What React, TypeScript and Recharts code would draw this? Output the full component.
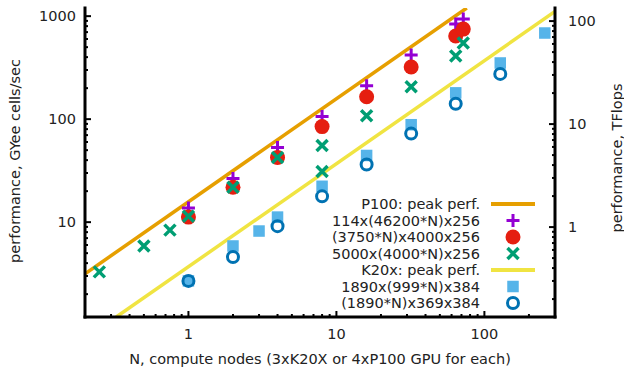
import React from 'react';
import { ComposedChart, Line, Scatter, XAxis, YAxis, Legend } from 'recharts';

// N values (compute nodes) and measured performance, GYee cells/sec
const p100PeakN = [0.2, 76];
const p100PeakV = [3.15, 1200];
const k20xPeakN = [0.325, 300];
const k20xPeakV = [1.2, 1110];

const purpleN = [1, 2, 4, 8, 16, 32, 64, 72];
const purpleV = [13.7, 26.6, 53, 106, 211, 420, 837, 936];
const redN = [1, 2, 4, 8, 16, 32, 64, 72];
const redV = [11.2, 21.8, 42.4, 84.7, 165, 321, 641, 749];
const greenN = [0.25, 0.5, 0.75, 1, 2, 4, 8, 8, 16, 32, 64, 72];
const greenV = [3.29, 5.86, 8.37, 11.4, 21.8, 42.4, 55.5, 31.1, 108, 206, 411, 548];
const skyN = [1, 2, 3, 4, 8, 16, 32, 64, 128, 256];
const skyV = [2.69, 5.87, 8.2, 11.2, 22.3, 44.4, 88.3, 180, 351, 686];
const blueN = [1, 2, 4, 8, 16, 32, 64, 128];
const blueV = [2.69, 4.59, 9.15, 17.8, 36.3, 72.4, 141, 275];

const xTicks = [0.2, 0.3, 0.4, 0.5, 0.6, 0.7, 0.8, 0.9, 1, 2, 3, 4, 5, 6, 7, 8, 9, 10, 20, 30, 40, 50, 60, 70, 80, 90, 100, 200, 300];
const xLabels = [1, 10, 100];
const yTicks = [2, 3, 4, 5, 6, 7, 8, 9, 10, 20, 30, 40, 50, 60, 70, 80, 90, 100, 200, 300, 400, 500, 600, 700, 800, 900, 1000];
const yLabels = [10, 100, 1000];
const tfTicks = [0.2, 0.3, 0.4, 0.5, 0.6, 0.7, 0.8, 0.9, 1, 2, 3, 4, 5, 6, 7, 8, 9, 10, 20, 30, 40, 50, 60, 70, 80, 90, 100];
const tfLabels = [1, 10, 100];

const names = [
  'P100: peak perf.',
  '114x(46200*N)x256',
  '(3750*N)x4000x256',
  '5000x(4000*N)x256',
  'K20x: peak perf.',
  '1890x(999*N)x384',
  '(1890*N)x369x384',
];

const toPoints = (n: number[], v: number[]) => n.map((x, i) => ({ n: x, v: v[i] }));

const FONT = 'DejaVu Sans, sans-serif';
const FS = 14.5;
const C = {
  orange: '#e69f00',
  purple: '#9400d3',
  red: '#e51e10',
  green: '#009e73',
  yellow: '#f0e442',
  sky: '#56b4e9',
  blue: '#0072b2',
};

const Plus = ({ cx, cy }: any) => (
  <path d={`M${cx - 6.5},${cy}H${cx + 6.5}M${cx},${cy - 6.5}V${cy + 6.5}`} stroke={C.purple} strokeWidth={3} />
);
const Dot = ({ cx, cy }: any) => <circle cx={cx} cy={cy} r={7.5} fill={C.red} />;
const Cross = ({ cx, cy }: any) => (
  <path d={`M${cx - 5.5},${cy - 5.5}L${cx + 5.5},${cy + 5.5}M${cx - 5.5},${cy + 5.5}L${cx + 5.5},${cy - 5.5}`} stroke={C.green} strokeWidth={3.5} />
);
const Box = ({ cx, cy }: any) => (
  <rect x={cx - 4.5} y={cy - 4.5} width={9} height={9} fill={C.sky} stroke={C.sky} strokeWidth={2.5} />
);
const Ring = ({ cx, cy }: any) => <circle cx={cx} cy={cy} r={5.5} fill="none" stroke={C.blue} strokeWidth={3} />;

const XTick = ({ x, y, payload, top }: any) => {
  const major = xLabels.includes(payload.value);
  const len = major ? 6 : 3;
  return (
    <g>
      <line x1={x} x2={x} y1={y} y2={top ? y + len : y - len} stroke="#000" strokeWidth={2} />
      {!top && major && (
        <text x={x} y={y + 22} textAnchor="middle" fontSize={FS} fontFamily={FONT} fill="#222">
          {payload.value}
        </text>
      )}
    </g>
  );
};

const YTick = ({ x, y, payload, right }: any) => {
  const labels = right ? tfLabels : yLabels;
  const major = labels.includes(payload.value);
  const len = major ? 6 : 3;
  return (
    <g>
      <line x1={x} x2={right ? x - len : x + len} y1={y} y2={y} stroke="#000" strokeWidth={2} />
      {major && (
        <text x={right ? x + 13 : x - 9} y={y + 5} textAnchor={right ? 'start' : 'end'} fontSize={FS} fontFamily={FONT} fill="#222">
          {payload.value}
        </text>
      )}
    </g>
  );
};

const LegendBox = () => {
  const rowY = (i: number) => 12 + i * 16.5;
  const sx = 233;
  const symbols = [
    <line key="l0" x1={211} x2={255} y1={rowY(0)} y2={rowY(0)} stroke={C.orange} strokeWidth={4} />,
    <Plus key="s1" cx={sx} cy={rowY(1)} />,
    <Dot key="s2" cx={sx} cy={rowY(2)} />,
    <Cross key="s3" cx={sx} cy={rowY(3)} />,
    <line key="l4" x1={211} x2={255} y1={rowY(4)} y2={rowY(4)} stroke={C.yellow} strokeWidth={4} />,
    <Box key="s5" cx={sx} cy={rowY(5)} />,
    <Ring key="s6" cx={sx} cy={rowY(6)} />,
  ];
  return (
    <svg width={270} height={125} style={{ display: 'block' }}>
      {names.map((name, i) => (
        <text key={name} x={200} y={rowY(i) + 5} textAnchor="end" fontSize={FS} fontFamily={FONT} fill="#222">
          {name}
        </text>
      ))}
      {symbols}
    </svg>
  );
};

export default function App() {
  const axisLine = { stroke: '#000', strokeWidth: 3, strokeLinecap: 'square' as const };
  return (
    <div style={{ position: 'absolute', left: 0, top: 0, width: 624, height: 367, background: '#fff' }}>
      <ComposedChart width={624} height={367} margin={{ top: 8, right: 9, bottom: 20, left: 25 }}>
        <XAxis
          dataKey="n"
          type="number"
          scale="log"
          domain={[0.2, 300]}
          allowDataOverflow
          ticks={xTicks}
          interval={0}
          tickSize={0}
          tickMargin={0}
          tickLine={false}
          axisLine={axisLine}
          tick={<XTick />}
          height={30}
        />
        <XAxis
          xAxisId="top"
          orientation="top"
          dataKey="n"
          type="number"
          scale="log"
          domain={[0.2, 300]}
          allowDataOverflow
          ticks={xTicks}
          interval={0}
          tickSize={0}
          tickMargin={0}
          tickLine={false}
          axisLine={axisLine}
          tick={<XTick top />}
          height={0}
        />
        <YAxis
          yAxisId="left"
          dataKey="v"
          type="number"
          scale="log"
          domain={[1.2, 1200]}
          allowDataOverflow
          ticks={yTicks}
          interval={0}
          tickSize={0}
          tickMargin={0}
          tickLine={false}
          axisLine={axisLine}
          tick={<YTick />}
          width={60}
        />
        <YAxis
          yAxisId="right"
          orientation="right"
          type="number"
          scale="log"
          domain={[0.134, 134]}
          allowDataOverflow
          ticks={tfTicks}
          interval={0}
          tickSize={0}
          tickMargin={0}
          tickLine={false}
          axisLine={axisLine}
          tick={<YTick right />}
          width={60}
        />
        <Line
          yAxisId="left"
          data={toPoints(p100PeakN, p100PeakV)}
          dataKey="v"
          stroke={C.orange}
          strokeWidth={3.5}
          dot={false}
          isAnimationActive={false}
        />
        <Scatter yAxisId="left" data={toPoints(purpleN, purpleV)} dataKey="v" shape={<Plus />} isAnimationActive={false} />
        <Scatter yAxisId="left" data={toPoints(redN, redV)} dataKey="v" shape={<Dot />} isAnimationActive={false} />
        <Scatter yAxisId="left" data={toPoints(greenN, greenV)} dataKey="v" shape={<Cross />} isAnimationActive={false} />
        <Line
          yAxisId="left"
          data={toPoints(k20xPeakN, k20xPeakV)}
          dataKey="v"
          stroke={C.yellow}
          strokeWidth={3.5}
          dot={false}
          isAnimationActive={false}
        />
        <Scatter yAxisId="left" data={toPoints(skyN, skyV)} dataKey="v" shape={<Box />} isAnimationActive={false} />
        <Scatter yAxisId="left" data={toPoints(blueN, blueV)} dataKey="v" shape={<Ring />} isAnimationActive={false} />
        <Legend
          layout="vertical"
          align="center"
          verticalAlign="middle"
          content={<LegendBox />}
          wrapperStyle={{ left: 280, top: 192, width: 270, height: 125, transform: 'none' }}
        />
        <text x={15} y={161} transform="rotate(-90 15 161)" textAnchor="middle" dominantBaseline="central" fontSize={FS} fontFamily={FONT} fill="#222">
          performance, GYee cells/sec
        </text>
        <text x={617} y={158} transform="rotate(-90 617 158)" textAnchor="middle" dominantBaseline="central" fontSize={FS} fontFamily={FONT} fill="#222">
          performance, TFlops
        </text>
        <text x={320} y={364} textAnchor="middle" fontSize={FS} fontFamily={FONT} fill="#222">
          N, compute nodes (3xK20X or 4xP100 GPU for each)
        </text>
      </ComposedChart>
    </div>
  );
}
